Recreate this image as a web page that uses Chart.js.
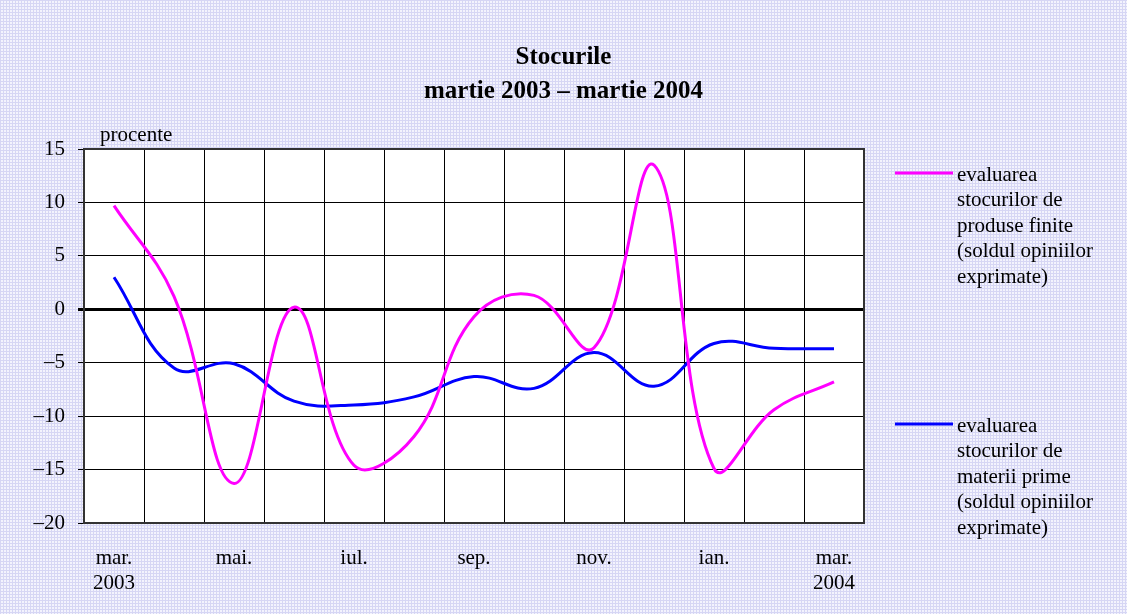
<!DOCTYPE html>
<html>
<head>
<meta charset="utf-8">
<script src="https://cdn.jsdelivr.net/npm/chart.js@4"></script>
<style>
  html, body { margin: 0; padding: 0; background: #fff; }
  #wrap { width: 1127px; height: 614px; }
</style>
</head>
<body>
<div id="wrap"><canvas id="stocChart" width="1127" height="614"></canvas></div>
<script>
// months on the x axis, mar. 2003 .. mar. 2004
const months = ['mar.', 'apr.', 'mai.', 'iun.', 'iul.', 'aug.', 'sep.', 'oct.', 'nov.', 'dec.', 'ian.', 'feb.', 'mar.'];
// what is actually printed under each month (every second one)
const tickLabels = [['mar.', '2003'], '', 'mai.', '', 'iul.', '', 'sep.', '', 'nov.', '', 'ian.', '', ['mar.', '2004']];

const finishedGoods = [9.7, 1.2, -16.3, 0.2, -14.6, -11.9, -0.7, 1.3, -3.6, 13.5, -14.9, -9.4, -6.8];
const rawMaterials = [3.0, -5.5, -5.1, -8.6, -8.95, -8.2, -6.3, -7.4, -4.05, -7.2, -3.2, -3.65, -3.7];

const legendLines = [
  ['evaluarea', 'stocurilor de', 'produse finite', '(soldul opiniilor', 'exprimate)'],
  ['evaluarea', 'stocurilor de', 'materii prime', '(soldul opiniilor', 'exprimate)']
];

const serif = "'Liberation Serif', 'Times New Roman', serif";

// dotted lavender background like the original
function makePattern() {
  const c = document.createElement('canvas');
  c.width = 3; c.height = 3;
  const g = c.getContext('2d');
  g.fillStyle = '#f3f3fd';
  g.fillRect(0, 0, 3, 3);
  g.fillStyle = '#d6d6f4';
  g.fillRect(0, 0, 3, 1);
  g.fillRect(0, 0, 1, 3);
  return g.createPattern(c, 'repeat');
}

const backgroundPlugin = {
  id: 'bg',
  beforeDraw(chart) {
    const { ctx, chartArea: a } = chart;
    ctx.save();
    ctx.fillStyle = makePattern();
    ctx.fillRect(0, 0, chart.width, chart.height);
    ctx.fillStyle = '#fff';
    ctx.fillRect(a.left, a.top, a.right - a.left, a.bottom - a.top);
    ctx.restore();
  }
};

const extrasPlugin = {
  id: 'extras',
  afterDraw(chart) {
    const { ctx, chartArea: a } = chart;
    ctx.save();
    ctx.font = '21px ' + serif;
    ctx.fillStyle = '#000';
    ctx.textBaseline = 'middle';
    ctx.textAlign = 'left';
    ctx.fillText('procente', 100, 135);

    // legend on the right, multi-line entries
    const tops = [173, 424];
    chart.data.datasets.forEach((ds, i) => {
      const y = tops[i];
      ctx.strokeStyle = ds.borderColor;
      ctx.lineWidth = 3;
      ctx.beginPath();
      ctx.moveTo(895, y);
      ctx.lineTo(953, y);
      ctx.stroke();
      legendLines[i].forEach((line, j) => {
        ctx.fillText(line, 957, y + 2 + j * 25.5);
      });
    });

    // frame of the plot area
    ctx.strokeStyle = '#333';
    ctx.lineWidth = 2;
    ctx.strokeRect(a.left, a.top, a.right - a.left, a.bottom - a.top);
    ctx.restore();
  }
};

new Chart(document.getElementById('stocChart'), {
  type: 'line',
  data: {
    labels: months,
    datasets: [
      {
        label: 'evaluarea stocurilor de produse finite (soldul opiniilor exprimate)',
        data: finishedGoods,
        borderColor: '#ff00ff',
        borderWidth: 3,
        pointRadius: 0,
        tension: 0.4,
        fill: false
      },
      {
        label: 'evaluarea stocurilor de materii prime (soldul opiniilor exprimate)',
        data: rawMaterials,
        borderColor: '#0000ff',
        borderWidth: 3,
        pointRadius: 0,
        tension: 0.4,
        fill: false
      }
    ]
  },
  options: {
    responsive: false,
    animation: false,
    layout: { padding: 0 },
    plugins: {
      legend: { display: false },
      tooltip: { enabled: false },
      title: {
        display: true,
        text: ['Stocurile', 'martie 2003 \u2013 martie 2004'],
        color: '#000',
        font: { family: serif, size: 25, weight: 'bold', lineHeight: 1.36 },
        padding: { top: 41, bottom: 40 }
      }
    },
    scales: {
      x: {
        offset: true,
        grid: { offset: true, color: '#000', lineWidth: 1, drawTicks: false },
        border: { display: false },
        ticks: {
          autoSkip: false,
          maxRotation: 0,
          color: '#000',
          padding: 23,
          font: { family: serif, size: 21, lineHeight: 1.2 },
          callback: (v, i) => tickLabels[i]
        },
        afterFit: (s) => { s.height = 91; }
      },
      y: {
        min: -20,
        max: 15,
        grid: {
          color: '#000',
          lineWidth: (c) => (c.tick && c.tick.value === 0 ? 3 : 1),
          tickLength: 6
        },
        border: { display: false },
        ticks: {
          stepSize: 5,
          color: '#000',
          padding: 13,
          font: { family: serif, size: 21 },
          callback: (v) => (v < 0 ? '\u2013' + Math.abs(v) : String(v))
        },
        afterFit: (s) => { s.width = 84; }
      },
      // empty right-hand axis that only reserves room for the legend
      legendSpace: {
        type: 'linear',
        position: 'right',
        min: -20,
        max: 15,
        grid: { display: false, drawTicks: false },
        border: { display: false },
        ticks: { display: false },
        afterFit: (s) => { s.width = 263; }
      }
    }
  },
  plugins: [backgroundPlugin, extrasPlugin]
});
</script>
</body>
</html>
